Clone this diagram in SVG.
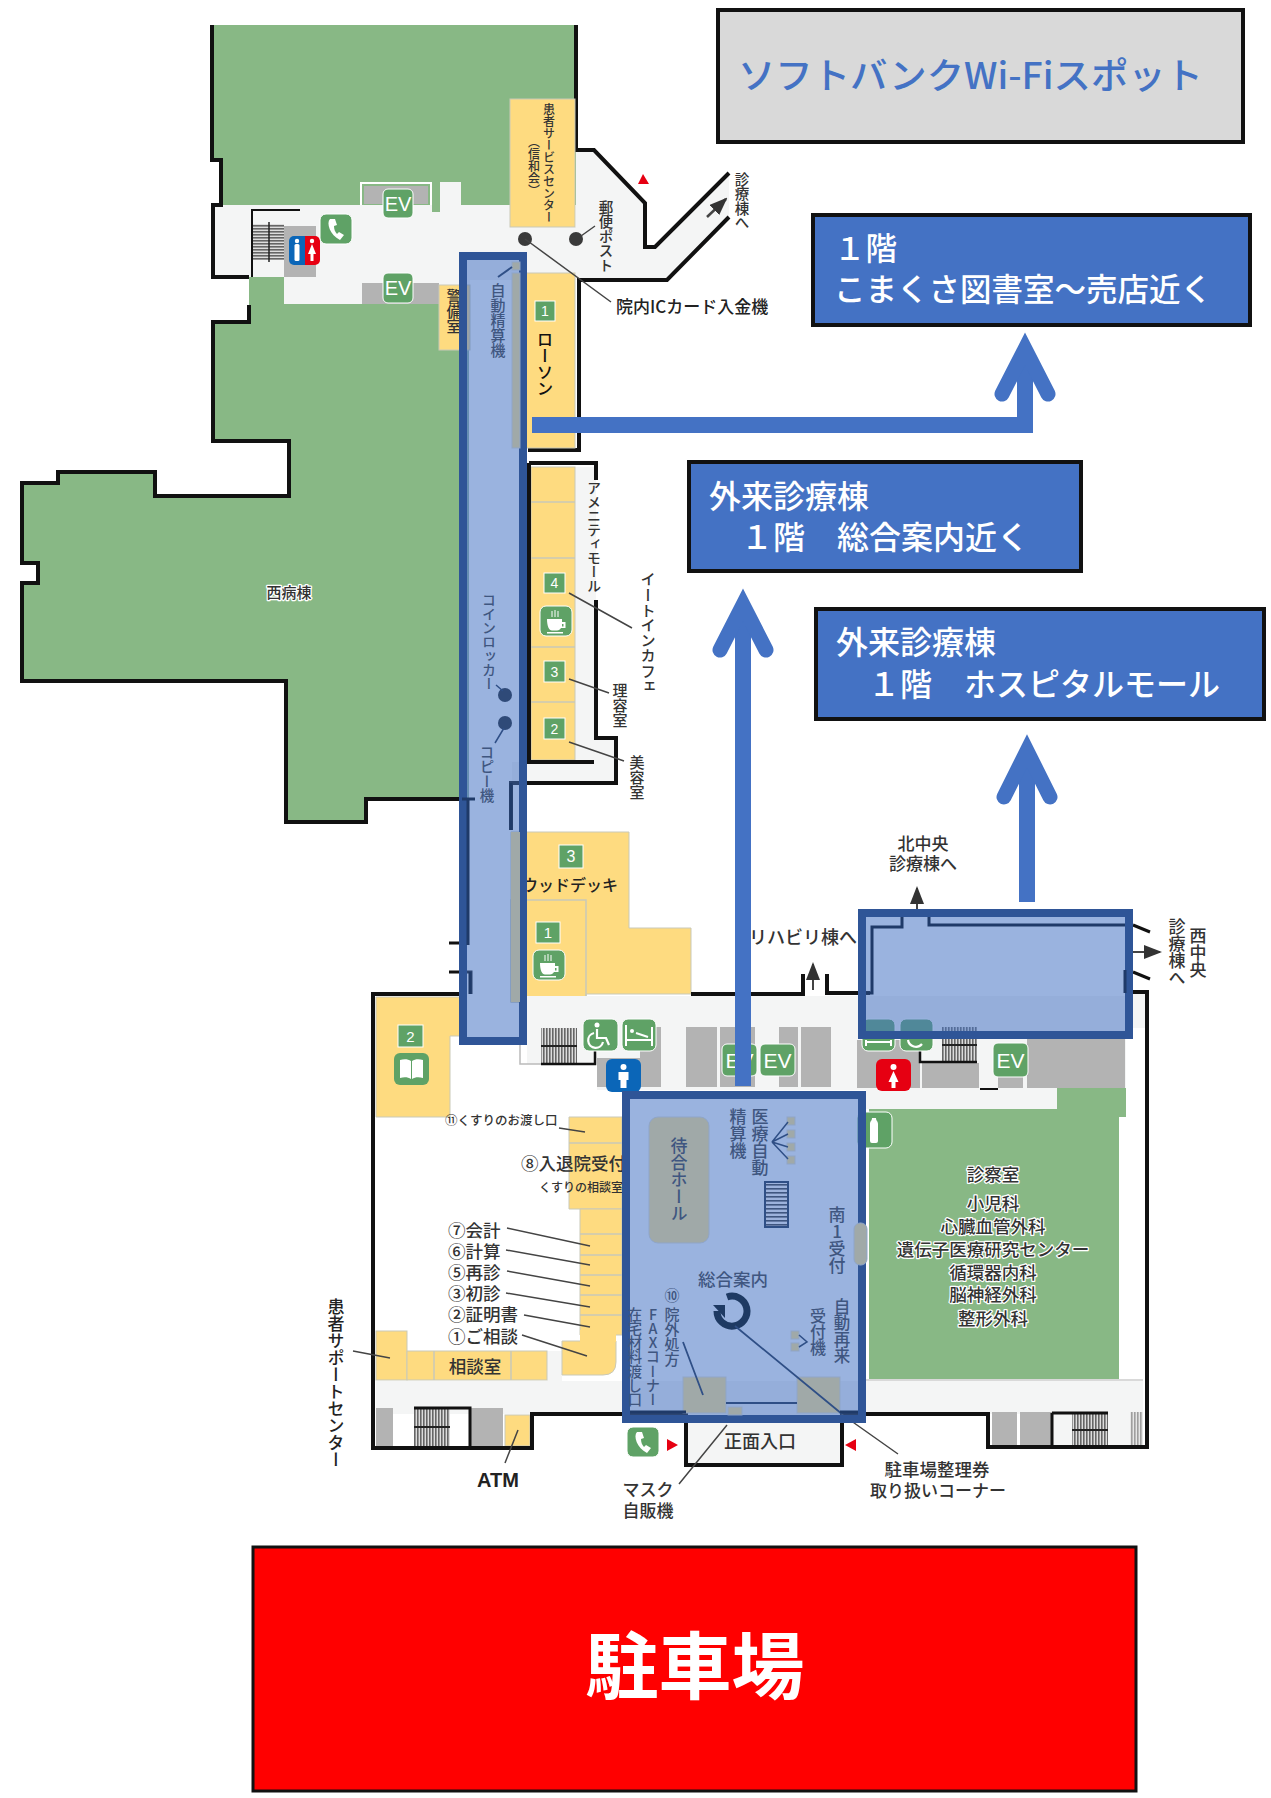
<svg xmlns="http://www.w3.org/2000/svg" width="1271" height="1798" viewBox="0 0 1271 1798">
<style>
text{font-family:"Noto Sans CJK JP","Noto Sans",sans-serif;font-weight:500;fill:#333}
.v{writing-mode:vertical-rl}
.vu{writing-mode:vertical-rl;text-orientation:upright}
.m{text-anchor:middle}
.halo{paint-order:stroke;stroke:#fff;stroke-width:2.5px;stroke-linejoin:round}
.in{fill:#3f5680}
.green{fill:#88b885}.yel{fill:#fedb80;stroke:#c9c9b8;stroke-width:1}.gray{fill:#b3b3b3}.light{fill:#f4f5f5}
.wall{fill:none;stroke:#111;stroke-width:4;stroke-linejoin:miter}
.thin{fill:none;stroke:#444;stroke-width:1.5}
.dk{fill:none;stroke:#2f4f86;stroke-width:2}
.dkb{fill:none;stroke:#1f3a68;stroke-width:4}
.over{fill:#4472c4;fill-opacity:.54;stroke:#2f5597;stroke-width:8}
.ogray{fill:#a0a9a8;stroke:#8fa5c8;stroke-width:1}
.badge{fill:#5fa266;stroke:#fff;stroke-width:1}
.bt{fill:#fff;text-anchor:middle;font-family:"Liberation Sans",sans-serif}
.box{fill:#4472c4;stroke:#111;stroke-width:4}
.big{fill:none;stroke:#4472c4;stroke-width:16;stroke-linejoin:miter;stroke-linecap:butt}
.head{fill:none;stroke:#4472c4;stroke-width:15;stroke-linecap:round;stroke-linejoin:miter;stroke-miterlimit:8}
.div{stroke:#c9c9b8;stroke-width:1.5}
</style>
<defs>
<pattern id="sv" width="3" height="3" patternUnits="userSpaceOnUse"><rect width="3" height="3" fill="#ddd"/><rect width="1.6" height="3" fill="#666"/></pattern>
<pattern id="sh" width="3" height="3" patternUnits="userSpaceOnUse"><rect width="3" height="3" fill="#ddd"/><rect width="3" height="1.6" fill="#666"/></pattern>
<pattern id="so" width="3" height="4" patternUnits="userSpaceOnUse"><rect width="3" height="4" fill="#9cb2dc"/><rect width="3" height="1.6" fill="#3f5680"/></pattern>
<marker id="al" markerWidth="18" markerHeight="14" refX="16" refY="7" orient="auto" markerUnits="userSpaceOnUse" viewBox="0 0 18 14"><path d="M0 0L18 7L0 14z" fill="#333"/></marker>
<g id="phone"><rect x="0" y="0" width="32" height="30" rx="6" fill="#5fa266" stroke="#fff"/><path d="M10 5c-4 4 0 16 10 21l4-5-5-3-2 2c-2-2-3-5-3-8l3-1-2-6z" fill="#fff"/></g>
<g id="cup"><rect width="32" height="30" rx="6" fill="#5fa266" stroke="#fff"/><path d="M7 13h15v3h3.500v6H21c-1 1.500-2 2.500-4 2.500h-5C9 24.500 7 20 7 13zM22 18v2.500h1.500V18zM7 26h16v1.500H7z" fill="#fff"/><path d="M12 5v6M15 4v7M18 5v6" stroke="#fff" stroke-width="1"/></g>
</defs>

<g id="west-building">
<path class="green" d="M210 25H576V205H510V205H221V160H210Z"/>
<path class="green" d="M249 277H284V304H462V799H366V822H286V681H22V583H38V563H22V483H58V472H155V496H289V441H213V322H249Z"/>
<rect x="462" y="350" width="7" height="450" fill="#8fb09d"/>
<path class="light" d="M213 205H510V227H576V150H594L645 203V247H655L729 173V217L667 280H470V304H284V277H213Z"/>
<path class="wall" d="M212 25V160H221V205H213V277H249M249 305V322H213V441H289V496H155V472H58V483H22V563H38V583H22V681H286V822H366V799H462"/>
<path class="wall" d="M576 25V150H594L645 203V247H655L729 173M729 217L667 280H579V450H528"/>
<g id="ev-north">
<path fill="none" stroke="#fff" stroke-width="2" d="M361 205V183H431V205"/><rect class="gray" x="364" y="186" width="64" height="18"/>
<rect x="440" y="182" width="21" height="24" fill="#f4f5f5"/><rect class="green" x="432" y="200" width="8" height="12"/>
<rect class="gray" x="362" y="283" width="77" height="21"/>
</g>
<rect class="yel" x="510" y="99" width="65" height="128"/>
<text class="v" x="549" y="103" font-size="12">患者サービスセンター</text>
<text class="v" x="534" y="136" font-size="12">（信和会）</text>
<g id="stairs-north"><rect x="252" y="224" width="32" height="36" fill="url(#sh)"/><path d="M269 222V262" stroke="#222" stroke-width="1.5"/><rect class="gray" x="284" y="226" width="32" height="51"/><path d="M300 210H252V277" class="wall" style="stroke-width:2"/></g>
<g id="toilet-north"><path d="M294 236H305V265H294a5 5 0 0 1-5-5V241a5 5 0 0 1 5-5z" fill="#0b66b8"/><path d="M305 236H315a5 5 0 0 1 5 5V260a5 5 0 0 1-5 5H305z" fill="#e60012"/><circle cx="297" cy="241" r="2.200" fill="#fff"/><rect x="294.500" y="244" width="5" height="17" rx="1.500" fill="#fff"/><circle cx="312" cy="241" r="2.200" fill="#fff"/><path d="M312 244l4 10h-2.500v7h-3v-7H308z" fill="#fff"/></g>
<use href="#phone" x="320" y="214"/>
<g id="ev1"><rect class="badge" x="383" y="189" width="30" height="29" rx="5"/><text class="bt" x="398" y="211" font-size="20">EV</text></g>
<g id="ev2"><rect class="badge" x="383" y="273" width="30" height="30" rx="5"/><text class="bt" x="398" y="295" font-size="20">EV</text></g>
<g id="mail-dots"><circle cx="525" cy="239" r="7" fill="#3a3a3a"/><circle cx="576" cy="239" r="7" fill="#3a3a3a"/></g>
<path fill="#e60012" d="M643 174L649 184H638Z"/>
<text class="v" x="606" y="200" font-size="14.500">郵便ポスト</text>
<text x="616" y="313" font-size="17" style="fill:#222">院内ICカード入金機</text>
<text class="v" x="742" y="172" font-size="14.500">診療棟へ</text>
<rect class="yel" x="439" y="285" width="31" height="65"/>
<text class="v" x="454" y="289" font-size="15">警備室</text>
<rect class="yel" x="525" y="273" width="50" height="175"/>
<g id="b1"><rect class="badge" x="535" y="301" width="20" height="20"/><text class="bt" x="545" y="316" font-size="14">1</text></g>
<text class="v" x="545" y="331" font-size="16.500" style="fill:#111">ローソン</text>
<text class="m halo" x="289" y="598" font-size="15">西病棟</text>
</g>

<g id="amenity-mall">
<path class="light" d="M575 467H596V738H616V783H512V762H575Z"/>
<rect class="yel" x="531" y="467" width="44" height="293"/>
<path class="div" d="M531 502H575M531 558H575M531 647H575M531 702H575"/>
<path class="wall" d="M529 463V762H594M529 463H596V480M596 600V738H616V783H511V830"/>
<g id="b4"><rect class="badge" x="544" y="573" width="21" height="20"/><text class="bt" x="554.500" y="588" font-size="14">4</text></g>
<use href="#cup" x="540" y="606"/>
<g id="b3"><rect class="badge" x="544" y="661" width="21" height="21"/><text class="bt" x="554.500" y="677" font-size="14">3</text></g>
<g id="b2"><rect class="badge" x="544" y="718" width="21" height="21"/><text class="bt" x="554.500" y="734" font-size="14">2</text></g>
<text class="v" x="594" y="481" font-size="14">アメニティモール</text>
<text class="v" x="648" y="572" font-size="15.200">イートインカフェ</text>
<text class="v" x="620" y="683" font-size="15">理容室</text>
<text class="v" x="637" y="755" font-size="15">美容室</text>
</g>

<g id="south-building">
<path class="yel" d="M511 832H629V928H691V994H586V1002H511Z"/>
<rect x="511" y="900" width="75" height="102" fill="none" stroke="#c9c9b8" stroke-width="1.500"/>
<g id="b3d"><rect class="badge" x="559" y="845" width="24" height="23"/><text class="bt" x="571" y="862" font-size="16">3</text></g>
<text x="618" y="891" text-anchor="end" font-size="16" style="fill:#222">ウッドデッキ</text>
<g id="b1d"><rect class="badge" x="536" y="922" width="24" height="21"/><text class="bt" x="548" y="938" font-size="15">1</text></g>
<use href="#cup" x="533" y="950"/>

<rect class="light" x="597" y="996" width="529" height="94"/>
<rect class="light" x="527" y="996" width="70" height="68"/>
<rect class="light" x="866" y="1088" width="191" height="21"/>
<rect class="light" x="1126" y="994" width="19" height="34"/>
<path class="yel" d="M376 997H460V1036H450V1117H376Z"/>
<g id="b2b"><rect class="badge" x="398" y="1025" width="25" height="22"/><text class="bt" x="410.500" y="1042" font-size="15">2</text></g>
<g id="book"><rect x="394" y="1053" width="35" height="32" rx="6" fill="#5fa266"/><path d="M400 1060c4-1 8-1 11 1v18c-3-2-7-2-11-1zM423 1060c-4-1-8-1-11 1v18c3-2 7-2 11-1z" fill="#fff"/></g>

<g id="stairs-mid"><rect x="541" y="1028" width="36" height="36" fill="url(#sv)"/><path d="M541 1046H577" stroke="#222" stroke-width="2"/><path d="M520 1028V1064H595V1040" fill="none" stroke="#bbb" stroke-width="1.500"/><path d="M541 1064H595V1040" fill="none" stroke="#111" stroke-width="2.500"/></g>
<rect class="gray" x="597" y="1058" width="64" height="29"/><rect class="gray" x="640" y="1027" width="21" height="32"/>
<rect class="gray" x="686" y="1027" width="31" height="60"/><rect class="gray" x="720" y="1027" width="35" height="60"/>
<rect class="gray" x="779" y="1027" width="19" height="60"/><rect class="gray" x="801" y="1027" width="30" height="60"/>
<g id="wheel1"><rect class="badge" x="583" y="1019" width="35" height="32" rx="6"/><circle cx="597" cy="1025" r="2.500" fill="#fff"/><path d="M597 1029V1038H606L609 1045M594 1033a7.500 7.500 0 1 0 9 9" fill="none" stroke="#fff" stroke-width="2.200"/></g>
<g id="bed1"><rect class="badge" x="622" y="1019" width="34" height="32" rx="6"/><path d="M626 1025V1046M652 1027V1046M626 1040H652" fill="none" stroke="#fff" stroke-width="2"/><circle cx="632" cy="1031" r="2" fill="#fff"/><path d="M636 1033L648 1037" stroke="#fff" stroke-width="2"/></g>
<g id="ev3"><rect class="badge" x="722" y="1044" width="35" height="32" rx="5"/><text class="bt" x="739.500" y="1068" font-size="21">EV</text></g>
<g id="ev4"><rect class="badge" x="760" y="1044" width="35" height="32" rx="5"/><text class="bt" x="777.500" y="1068" font-size="21">EV</text></g>
<g id="male"><rect x="606" y="1059" width="35" height="33" rx="6" fill="#0b66b8"/><circle cx="623.500" cy="1067" r="3" fill="#fff"/><path d="M618.500 1072h10v8h-2v8h-6v-8h-2z" fill="#fff"/></g>

<rect class="gray" x="857" y="1040" width="63" height="48"/><rect class="gray" x="922" y="1063" width="57" height="25"/>
<rect x="942" y="1027" width="35" height="35" fill="url(#sv)"/><path d="M942 1045H977" stroke="#222" stroke-width="2"/>
<path d="M920 1040V1062H977" fill="none" stroke="#111" stroke-width="2.500"/>
<rect class="gray" x="1027" y="1035" width="98" height="53"/><rect class="gray" x="998" y="1077" width="25" height="11"/>
<path d="M980 1089H998" stroke="#111" stroke-width="2"/>
<g id="bed2"><rect class="badge" x="862" y="1019" width="33" height="32" rx="6"/><path d="M866 1040V1046M891 1040V1046M866 1042H891" fill="none" stroke="#fff" stroke-width="2"/></g>
<g id="wheel2"><rect class="badge" x="900" y="1019" width="33" height="32" rx="6"/><path d="M908 1040a8 8 0 0 0 14 4" fill="none" stroke="#fff" stroke-width="2.200"/></g>
<g id="female"><rect x="876" y="1059" width="35" height="32" rx="6" fill="#e60012"/><circle cx="893.500" cy="1067" r="3" fill="#fff"/><path d="M893.500 1071l5 11h-3v6h-4v-6h-3z" fill="#fff"/></g>
<g id="ev5"><rect class="badge" x="993" y="1043" width="35" height="34" rx="5"/><text class="bt" x="1010.500" y="1068" font-size="21">EV</text></g>

<path class="green" d="M869 1109H1057V1088H1126V1117H1119V1379H869Z"/>
<g id="bottle"><rect class="badge" x="857" y="1112" width="35" height="36" rx="6"/><path d="M870 1124c0-3 2-3 2-6h4c0 3 2 3 2 6v17a2 2 0 0 1-2 2h-4a2 2 0 0 1-2-2z" fill="#fff"/></g>
<text class="m halo" x="993" y="1181" font-size="17.500">診察室</text>
<g id="depts">
<text class="m halo" x="993" y="1210" font-size="17.500">小児科</text>
<text class="m halo" x="993" y="1233" font-size="17.500">心臓血管外科</text>
<text class="m halo" x="993" y="1256" font-size="17.500">遺伝子医療研究センター</text>
<text class="m halo" x="993" y="1279" font-size="17.500">循環器内科</text>
<text class="m halo" x="993" y="1301" font-size="17.500">脳神経外科</text>
<text class="m halo" x="993" y="1325" font-size="17.500">整形外科</text>
</g>
<path d="M866 1380H1143" stroke="#ccc" stroke-width="1.500"/>
<rect class="light" x="376" y="1381" width="767" height="33"/>
<rect class="light" x="547" y="1351" width="15" height="30"/>
<rect class="light" x="684" y="1414" width="157" height="51"/>
<rect class="light" x="1052" y="1412" width="91" height="34"/>
<rect class="gray" x="992" y="1412" width="25" height="33"/><rect class="gray" x="1020" y="1412" width="32" height="33"/>
<rect x="1072" y="1413" width="36" height="33" fill="url(#sv)"/><path d="M1072 1430H1108" stroke="#222" stroke-width="2"/>
<rect x="1130" y="1412" width="13" height="34" fill="url(#sv)" opacity=".6"/>
<path d="M1052 1413V1447M1052 1413H1108" fill="none" stroke="#111" stroke-width="3"/>

<g id="counter"><path class="yel" d="M569 1117H622V1209H569Z"/><path class="yel" d="M580 1209H622V1335H580Z"/><path class="yel" d="M562 1341H616V1362Q616 1375 603 1375H562Z"/><rect x="580" y="1330" width="36" height="12" fill="#fedb80"/>
<path class="div" d="M569 1143H622M580 1234H622M580 1255H622M580 1275H622M580 1295H622M580 1315H622"/></g>
<g id="consult"><rect class="yel" x="376" y="1331" width="31" height="49"/><rect class="yel" x="407" y="1351" width="140" height="29"/><path class="div" d="M434 1351V1380M511 1351V1380"/><text class="m" x="475" y="1373" font-size="17.500">相談室</text></g>
<rect class="gray" x="376" y="1408" width="17" height="38"/><rect x="414" y="1408" width="36" height="38" fill="url(#sv)"/><path d="M414 1427H450" stroke="#222" stroke-width="2"/>
<rect class="gray" x="471" y="1408" width="32" height="38"/><rect class="yel" x="505" y="1415" width="25" height="31"/>
<path d="M414 1408H470V1448" fill="none" stroke="#111" stroke-width="3"/>

<text x="445" y="1125" font-size="12.500">⑪くすりのお渡し口</text>
<text x="521" y="1170" font-size="17.500">⑧入退院受付</text>
<text x="539" y="1192" font-size="12">くすりの相談室</text>
<text x="448" y="1237" font-size="17.500">⑦会計</text>
<text x="448" y="1258" font-size="17.500">⑥計算</text>
<text x="448" y="1279" font-size="17.500">⑤再診</text>
<text x="448" y="1300" font-size="17.500">③初診</text>
<text x="448" y="1321" font-size="17.500">②証明書</text>
<text x="448" y="1343" font-size="17.500">①ご相談</text>
<text class="v" x="336" y="1298" font-size="17" style="fill:#222">患者サポートセンター</text>
<text class="m" x="498" y="1487" font-size="20" style="fill:#222;font-family:'Liberation Sans',sans-serif;font-weight:700">ATM</text>
<use href="#phone" transform="translate(627 1427)"/>
<path fill="#e60012" d="M667 1439L678 1445L667 1451Z M856 1439L845 1445L856 1451Z"/>
<text class="m" x="760" y="1448" font-size="18">正面入口</text>
<text class="m" x="648" y="1496" font-size="17">マスク</text>
<text class="m" x="648" y="1517" font-size="17">自販機</text>
<text class="m" x="937" y="1476" font-size="17.500">駐車場整理券</text>
<text class="m" x="938" y="1497" font-size="17">取り扱いコーナー</text>
<text class="m" x="923" y="850" font-size="17">北中央</text>
<text class="m" x="923" y="870" font-size="17">診療棟へ</text>
<text x="857" y="944" text-anchor="end" font-size="18">リハビリ棟へ</text>
<text class="v" x="1198" y="927" font-size="17">西中央</text>
<text class="v" x="1177" y="918" font-size="17">診療棟へ</text>

<path class="wall" d="M460 994H373V1448H532V1414H686V1465H842V1414H988V1447H1147V992H1133"/>
<path class="wall" d="M691 994H803V974M827 974V993H870"/>
<path class="wall" d="M1133 925L1150 932M1133 972L1150 979" style="stroke-width:3"/>
<path class="wall" d="M449 943H467M449 972H471V994" style="stroke-width:3"/>
</g>

<g id="connectors">
<path class="thin" d="M581 236L595 226M525 239L611 302M569 593L632 628M569 679L609 693M569 742L624 761M559 1128L585 1132M507 1228L590 1246M506 1250L590 1265M507 1271L590 1286M506 1293L590 1307M524 1315L590 1327M522 1335L587 1356M353 1351L390 1358M518 1430L505 1463M679 1484L727 1425M840 1413L898 1454"/>
<path class="thin" d="M707 217L726 199" marker-end="url(#al)" style="stroke-width:2.500"/>
<path class="thin" d="M917 909V888" marker-end="url(#al)" style="stroke-width:2"/>
<path class="thin" d="M813 990V964" marker-end="url(#al)" style="stroke-width:2"/>
<path class="thin" d="M1133 952H1160" marker-end="url(#al)" style="stroke-width:2"/>
</g>

<g id="overlay-a">
<rect class="over" x="463" y="256" width="60" height="785"/>
<rect class="ogray" x="512" y="273" width="8" height="175"/><rect class="ogray" x="512" y="262" width="8" height="8"/>
<rect x="511" y="832" width="9" height="170" fill="#a0a9a8"/>
<path class="dk" d="M498 277L512 267"/>
<path class="dkb" d="M468 800V945M470 972V994M511 783V830" style="stroke-width:3"/>
<path class="dkb" d="M462 799H475" style="stroke-width:3"/>
<text class="v in" x="498" y="283" font-size="15">自動精算機</text>
<text class="v in" x="489" y="593" font-size="14">コインロッカー</text>
<text class="v in" x="487" y="745" font-size="14.500">コピー機</text>
<circle cx="505" cy="695" r="7" fill="#2f4a78"/><circle cx="505" cy="723" r="7" fill="#2f4a78"/>
<path class="dk" d="M496 685L503 691M495 743L504 728" style="stroke-width:1.500"/>
</g>

<g id="overlay-b">
<rect class="over" x="626" y="1095" width="236" height="324"/>
<rect class="ogray" x="649" y="1117" width="60" height="126" rx="9"/>
<text class="v in" x="679" y="1137" font-size="17">待合ホール</text>
<text class="v in" x="760" y="1108" font-size="17">医療自動</text>
<text class="v in" x="738" y="1108" font-size="17">精算機</text>
<rect class="ogray" x="787" y="1117" width="8" height="8"/><rect class="ogray" x="787" y="1130" width="8" height="8"/><rect class="ogray" x="787" y="1143" width="8" height="8"/><rect class="ogray" x="787" y="1156" width="8" height="8"/>
<path class="dk" d="M788 1122L772 1142L788 1134M772 1142L788 1147M772 1142L788 1159" style="stroke-width:1.500"/>
<rect x="765" y="1182" width="23" height="45" fill="url(#so)" stroke="#2f4f86" stroke-width="2"/>
<text class="vu in" x="837" y="1206" font-size="17">南1受付</text>
<rect class="ogray" x="854" y="1223" width="13" height="42" rx="6"/>
<text class="m in" x="733" y="1286" font-size="17.500">総合案内</text>
<path d="M717 1311A15 15 0 1 0 727 1297" fill="none" stroke="#1e3a63" stroke-width="7"/>
<path d="M713 1305H725V1318Z" fill="#1e3a63"/>
<text class="m in" x="672" y="1301" font-size="15">⑩</text>
<text class="v in" x="672" y="1307" font-size="15">院外処方</text>
<text class="vu in" x="653" y="1307" font-size="14.300">FAXコーナー</text>
<text class="v in" x="635" y="1307" font-size="14.300">在宅材料渡し口</text>
<rect class="ogray" x="683" y="1377" width="43" height="36"/><rect class="ogray" x="797" y="1377" width="43" height="36"/>
<rect class="ogray" x="728" y="1407" width="14" height="8"/>
<path class="dk" d="M726 1403H797M683 1342L703 1395M735 1326L842 1414" style="stroke-width:1.800"/>
<text class="v in" x="842" y="1298" font-size="16.500">自動再来</text>
<text class="v in" x="818" y="1308" font-size="16">受付機</text>
<rect class="ogray" x="791" y="1331" width="8" height="8"/><rect class="ogray" x="791" y="1343" width="8" height="8"/>
<path class="dk" d="M799 1335L807 1342L799 1347" style="stroke-width:1.500"/>
<path class="dkb" d="M630 1412H686M840 1412H858" style="stroke-width:3"/>
</g>

<g id="overlay-c">
<rect class="over" x="862" y="913" width="267" height="122"/>
<path class="dkb" d="M866 993H872V927H902V917M929 917V925H1125M1125 970V993" style="stroke-width:3"/>
</g>

<g id="wifi-box"><rect x="718" y="10" width="525" height="132" fill="#d9d9d9" stroke="#111" stroke-width="4"/>
<text x="738" y="89" font-size="36" textLength="465" lengthAdjust="spacingAndGlyphs" style="fill:#4472c4">ソフトバンクWi-Fiスポット</text></g>
<g id="box-1f"><rect class="box" x="813" y="215" width="437" height="110"/>
<text x="834" y="260" font-size="31.500" style="fill:#fff">１階</text><text x="834" y="301" font-size="31.500" style="fill:#fff">こまくさ図書室～売店近く</text></g>
<g id="box-info"><rect class="box" x="689" y="462" width="392" height="109"/>
<text x="709" y="508" font-size="32" style="fill:#fff">外来診療棟</text><text x="709" y="549" font-size="32" style="fill:#fff">　１階　総合案内近く</text></g>
<g id="box-mall"><rect class="box" x="816" y="609" width="448" height="110"/>
<text x="836" y="654" font-size="32" style="fill:#fff">外来診療棟</text><text x="836" y="696" font-size="32" style="fill:#fff">　１階　ホスピタルモール</text></g>
<g id="parking"><rect x="253" y="1547" width="883" height="244" fill="#ff0000" stroke="#111" stroke-width="3"/>
<text class="m" x="695" y="1693" font-size="73" style="fill:#fff;font-weight:700">駐車場</text></g>

<g id="big-arrows">
<path class="big" d="M532 425H1025V360"/><path class="head" d="M1002 394L1025 349L1048 394"/>
<path class="big" d="M743 1086V615"/><path class="head" d="M720 650L743 605L766 650"/>
<path class="big" d="M1027 902V760"/><path class="head" d="M1004 797L1027 751L1050 797"/>
</g>
</svg>
